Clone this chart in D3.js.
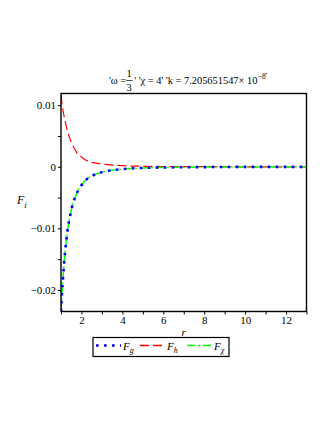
<!DOCTYPE html>
<html>
<head>
<meta charset="utf-8">
<script src="https://cdn.jsdelivr.net/npm/d3@7"></script>
<style>
  body { margin: 0; background: #fff; }
  svg text { font-family: "Liberation Serif", "Times New Roman", serif; fill: #000; }
</style>
</head>
<body>
<div id="chart"></div>
<script>
// values
const rValues = [1, 1.05, 1.1, 1.15, 1.2, 1.25, 1.3, 1.4, 1.5, 1.6, 1.7, 1.8, 2, 2.2, 2.4, 2.7, 3, 3.5, 4, 4.5, 5, 6, 7, 8, 9, 10, 11, 12, 13];
const Fg = [-0.0235, -0.0205, -0.0180, -0.0157, -0.0138, -0.0122, -0.0108, -0.0087, -0.0071, -0.0058, -0.0049, -0.0041, -0.0030, -0.0022, -0.0017, -0.0012, -0.00087, -0.00055, -0.00037, -0.00026, -0.00019, -0.00011, -0.00007, -0.00005, -0.00003, -0.00002, -0.00002, -0.00001, -0.00001];
const Fh = [0.0116, 0.0102, 0.0091, 0.0082, 0.0074, 0.0067, 0.0060, 0.0049, 0.0040, 0.0033, 0.0027, 0.0021, 0.0016, 0.0011, 0.00082, 0.00060, 0.00045, 0.00028, 0.00018, 0.00012, 0.00008, 0.00004, 0.00002, 0.00001, 0.00001, 0, 0, 0, 0];
const Fx = Fg.slice();

const xMajor = [2, 4, 6, 8, 10, 12];
const xMinor = [1, 3, 5, 7, 9, 11, 13];
const yMajor = [0.01, 0, -0.01, -0.02];
const yMinor = [0.005, -0.005, -0.015];

document.addEventListener('DOMContentLoaded', function () {
  let w = 332, h = 430;
  let left = 61, right = 306.5, top = 93.5, bottom = 311.5;

  let svg = d3.select('#chart')
    .append('svg')
    .attr('width', w)
    .attr('height', h);

  const xScale = d3.scaleLinear().domain([1, 13]).range([left, right]);
  const yScale = d3.scaleLinear().domain([-0.0235, 0.0119]).range([bottom, top]);

  // title: 'ω = 1/3' 'χ = 4' 'k = 7.205651547× 10^-8'
  let title = svg.append('g').attr('font-size', 10.4);
  let t1 = title.append('text').attr('x', 109).attr('y', 84).text("'ω = ");
  let fx = 109 + t1.node().getComputedTextLength();
  title.append('text').attr('x', fx + 3).attr('y', 77).attr('text-anchor', 'middle').text('1');
  title.append('line')
    .attr('x1', fx).attr('x2', fx + 6.5)
    .attr('y1', 80.5).attr('y2', 80.5)
    .attr('stroke', '#000').attr('stroke-width', 0.7);
  title.append('text').attr('x', fx + 3).attr('y', 90.5).attr('text-anchor', 'middle').text('3');
  let t2 = title.append('text').attr('x', fx + 8).attr('y', 84)
    .text("' 'χ = 4' 'k = 7.205651547× 10");
  let t2w = t2.node().getComputedTextLength();
  title.append('text').attr('x', fx + 8 + t2w + 0.5).attr('y', 79)
    .attr('font-size', 7.5).text("−8'");

  svg.append('clipPath').attr('id', 'plot-clip')
    .append('rect')
    .attr('x', left).attr('y', top)
    .attr('width', right - left).attr('height', bottom - top);

  // ticks (outward, same length for major and minor)
  let axes = svg.append('g');

  let xAxis = d3.axisBottom(xScale).tickValues(xMajor).tickSize(3).tickSizeOuter(0).tickPadding(2)
    .tickFormat(d3.format('d'));
  axes.append('g').attr('id', 'x-axis')
    .attr('transform', 'translate(0,' + bottom + ')')
    .call(xAxis)
    .call(g => g.select('.domain').remove())
    .call(g => g.selectAll('text').attr('font-size', 11));

  axes.append('g')
    .attr('transform', 'translate(0,' + bottom + ')')
    .call(d3.axisBottom(xScale).tickValues(xMinor).tickSize(3).tickFormat(''))
    .call(g => g.select('.domain').remove());

  let yAxis = d3.axisLeft(yScale).tickValues(yMajor).tickSize(3).tickPadding(2)
    .tickFormat(d => d === 0 ? '0' : d3.format('.2f')(d).replace('-', '−'));
  axes.append('g').attr('id', 'y-axis')
    .attr('transform', 'translate(' + left + ',0)')
    .call(yAxis)
    .call(g => g.select('.domain').remove())
    .call(g => g.selectAll('text').attr('font-size', 11));

  axes.append('g')
    .attr('transform', 'translate(' + left + ',0)')
    .call(d3.axisLeft(yScale).tickValues(yMinor).tickSize(3).tickFormat(''))
    .call(g => g.select('.domain').remove());

  // curves
  let line = d3.line()
    .x(d => xScale(d[0]))
    .y(d => yScale(d[1]))
    .curve(d3.curveMonotoneX);

  let plot = svg.append('g').attr('clip-path', 'url(#plot-clip)');

  plot.append('path')
    .datum(rValues.map((r, i) => [r, Fh[i]]))
    .attr('d', line)
    .attr('fill', 'none')
    .attr('stroke', '#ff0000')
    .attr('stroke-width', 1.2)
    .attr('stroke-dasharray', '9,4');

  plot.append('path')
    .datum(rValues.map((r, i) => [r, Fx[i]]))
    .attr('d', line)
    .attr('fill', 'none')
    .attr('stroke', '#00ff00')
    .attr('stroke-width', 1.5)
    .attr('stroke-dasharray', '8,3,2,3');

  plot.append('path')
    .datum(rValues.map((r, i) => [r, Fg[i]]))
    .attr('d', line)
    .attr('fill', 'none')
    .attr('stroke', '#0000ff')
    .attr('stroke-width', 2.6)
    .attr('stroke-dasharray', '2.6,5.4');

  // frame
  svg.append('rect')
    .attr('x', left).attr('y', top)
    .attr('width', right - left).attr('height', bottom - top)
    .attr('fill', 'none')
    .attr('stroke', '#000')
    .attr('stroke-width', 1.4);

  // axis labels
  svg.append('text')
    .attr('x', (left + right) / 2).attr('y', 336)
    .attr('text-anchor', 'middle')
    .attr('font-size', 11).attr('font-style', 'italic')
    .text('r');

  let yl = svg.append('text')
    .attr('x', 17).attr('y', 204)
    .attr('font-size', 12).attr('font-style', 'italic');
  yl.append('tspan').text('F');
  yl.append('tspan').attr('dy', 4).attr('font-size', 9).text('i');

  // legend
  let legend = svg.append('g');
  legend.append('rect')
    .attr('x', 93).attr('y', 337.5)
    .attr('width', 136).attr('height', 19)
    .attr('fill', '#fff')
    .attr('stroke', '#000')
    .attr('stroke-width', 1.2);

  const items = [
    { x: 96, label: 'g', color: '#0000ff', width: 2.6, dash: '2.6,5.4' },
    { x: 140, label: 'h', color: '#ff0000', width: 1.3, dash: '9,4' },
    { x: 187, label: 'χ', color: '#00ff00', width: 1.5, dash: '8,3,2,3' }
  ];
  items.forEach(it => {
    legend.append('line')
      .attr('x1', it.x).attr('x2', it.x + 25)
      .attr('y1', 345.5).attr('y2', 345.5)
      .attr('stroke', it.color)
      .attr('stroke-width', it.width)
      .attr('stroke-dasharray', it.dash);
    let lt = legend.append('text')
      .attr('x', it.x + 27).attr('y', 349.5)
      .attr('font-size', 11).attr('font-style', 'italic');
    lt.append('tspan').text('F');
    lt.append('tspan').attr('dy', 3.5).attr('font-size', 8).text(it.label);
  });
});
</script>
</body>
</html>
